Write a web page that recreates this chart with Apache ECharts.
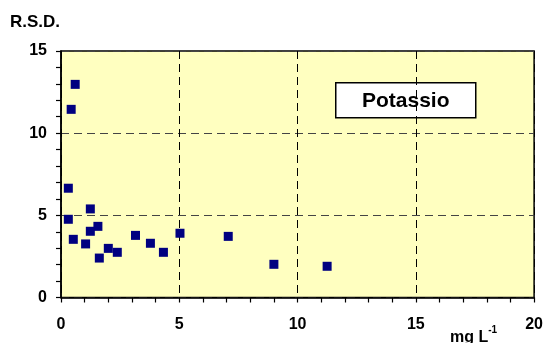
<!DOCTYPE html>
<html>
<head>
<meta charset="utf-8">
<script src="https://cdn.jsdelivr.net/npm/echarts@6/dist/echarts.min.js"></script>
<style>
  html, body { margin: 0; padding: 0; background: #fff; }
  #chart { width: 546px; height: 343px; }
</style>
</head>
<body>
<div id="chart"></div>
<script>
// Concentration (mg L-1) and relative standard deviation for potassium
const concentration = [0.31, 0.31, 0.43, 0.52, 0.60, 1.04, 1.24, 1.24, 1.56, 1.62, 2.00, 2.38, 3.15, 3.78, 4.33, 5.03, 7.07, 9.00, 11.25];
const rsd = [6.65, 4.76, 11.45, 3.54, 12.97, 3.26, 5.39, 4.03, 4.33, 2.40, 2.99, 2.75, 3.78, 3.30, 2.75, 3.91, 3.72, 2.02, 1.90];
const xTicks = [0, 5, 10, 15, 20];
const yTicks = [0, 5, 10, 15];
const elementName = 'Potassio';

const points = concentration.map((c, i) => [c, rsd[i]]);
const font = '"Liberation Sans", Arial, sans-serif';

const chart = echarts.init(document.getElementById('chart'), null, { renderer: 'canvas' });
chart.setOption({
  animation: false,
  backgroundColor: '#ffffff',
  grid: {
    left: 61, right: 11, top: 51, bottom: 45.5,
    show: true,
    backgroundColor: '#FFFFC0',
    borderColor: '#000000',
    borderWidth: 1.5
  },
  xAxis: {
    type: 'value',
    min: xTicks[0], max: xTicks[xTicks.length - 1], interval: 5,
    axisLine: { show: true, onZero: false, lineStyle: { color: '#000', width: 1.5 } },
    axisTick: { show: true, inside: false, length: 5, lineStyle: { color: '#000', width: 1.2 } },
    minorTick: { show: true, splitNumber: 5, length: 5, lineStyle: { color: '#000', width: 1.2 } },
    axisLabel: { margin: 19, color: '#000', fontFamily: font, fontWeight: 'bold', fontSize: 16 },
    splitLine: { show: true, lineStyle: { color: '#000', type: [8, 5], width: 1 } }
  },
  yAxis: {
    type: 'value',
    min: yTicks[0], max: yTicks[yTicks.length - 1], interval: 5,
    axisLine: { show: true, onZero: false, lineStyle: { color: '#000', width: 1.5 } },
    axisTick: { show: true, inside: false, length: 5, lineStyle: { color: '#000', width: 1.2 } },
    minorTick: { show: true, splitNumber: 5, length: 5, lineStyle: { color: '#000', width: 1.2 } },
    axisLabel: { margin: 14, color: '#000', fontFamily: font, fontWeight: 'bold', fontSize: 16 },
    splitLine: { show: true, lineStyle: { color: '#444', type: [8, 5], width: 1 } }
  },
  series: [{
    type: 'scatter',
    data: points,
    symbol: 'rect',
    symbolSize: 9,
    itemStyle: { color: '#000080', opacity: 1 },
    z: 5
  }],
  graphic: [
    {
      type: 'text', left: 10, top: 14,
      style: { text: 'R.S.D.', font: 'bold 17px ' + font, fill: '#000' }
    },
    {
      type: 'text', left: 450, top: 325,
      style: {
        text: '{b|mg L}{s|-1}',
        rich: {
          b: { font: 'bold 16px ' + font, fill: '#000', verticalAlign: 'bottom', padding: [5, 0, 0, 0] },
          s: { font: 'bold 10px ' + font, fill: '#000', verticalAlign: 'top' }
        }
      }
    },
    {
      type: 'group', left: 335, top: 82, z: 10,
      children: [
        {
          type: 'rect', shape: { x: 0, y: 0, width: 140, height: 35 },
          style: { fill: '#ffffff', stroke: '#000', lineWidth: 1.5 }
        },
        {
          type: 'text', x: 70, y: 18,
          style: { text: elementName, font: 'bold 21px ' + font, fill: '#000', align: 'center', verticalAlign: 'middle' }
        }
      ]
    }
  ]
});
</script>
</body>
</html>
